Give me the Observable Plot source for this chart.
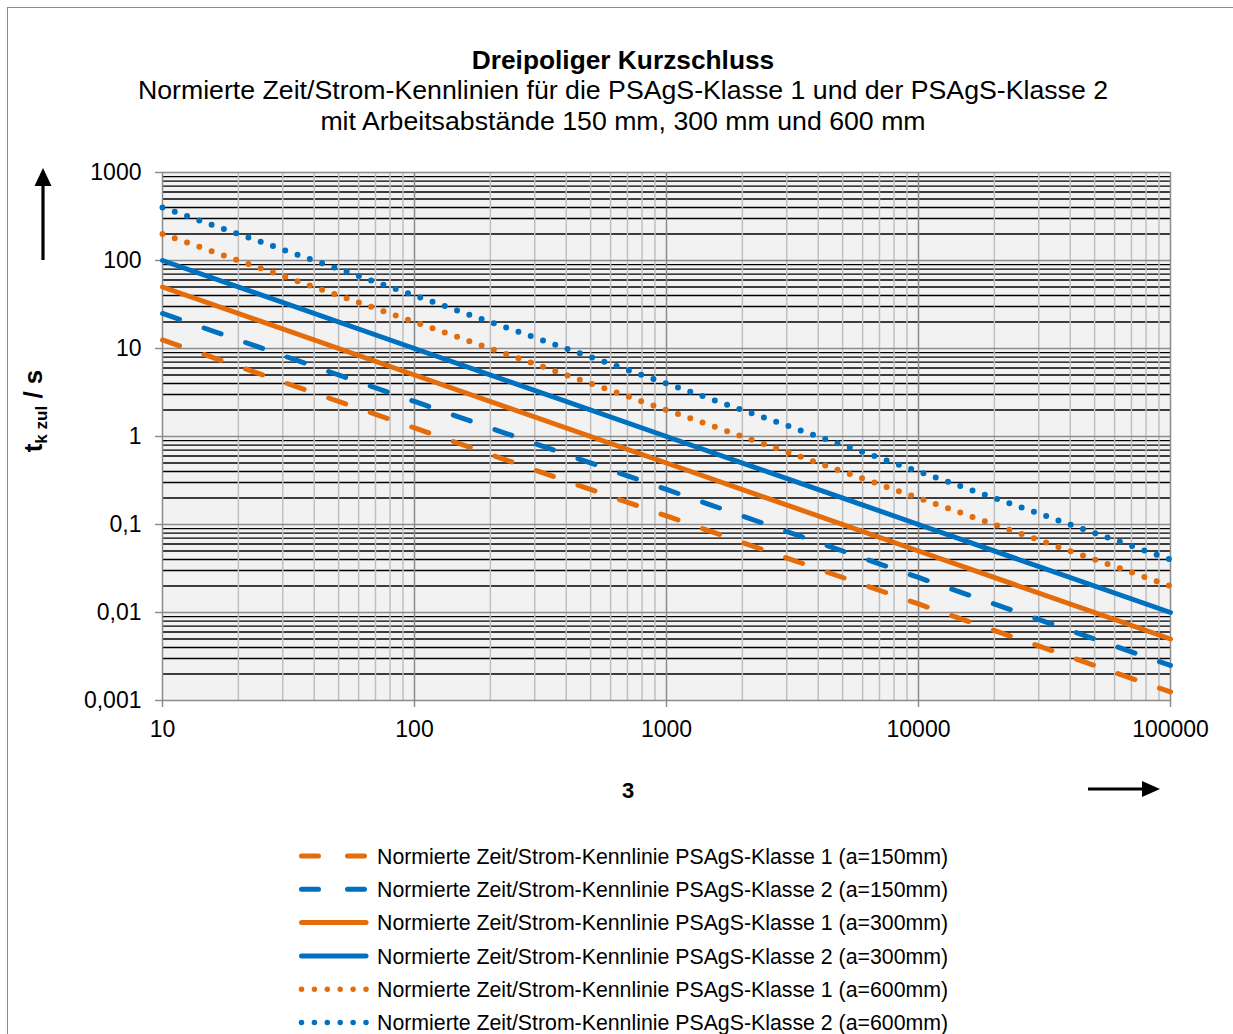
<!DOCTYPE html>
<html>
<head>
<meta charset="utf-8">
<script src="https://cdn.jsdelivr.net/npm/d3@7"></script>
<script src="https://cdn.jsdelivr.net/npm/@observablehq/plot@0.6"></script>
<style>
  body { margin: 0; background: #fff; font-family: "Liberation Sans", Arial, sans-serif; }
  #wrap { position: relative; width: 1233px; height: 1034px; overflow: hidden; background: #fff; }
  #border { position: absolute; left: 7px; top: 7px; width: 1260px; height: 1060px; border: 1.5px solid #8c8c8c; box-sizing: border-box; }
  #chart { position: absolute; left: 0; top: 140px; }
  #overlay { position: absolute; left: 0; top: 0; pointer-events: none; }
</style>
</head>
<body>
<div id="wrap">
  <div id="border"></div>
  <div id="chart"></div>
  <svg id="overlay" width="1233" height="1034"></svg>
</div>
<script>
// ---- Data ----
const xValues = [10, 100, 1000, 10000, 100000];
const klasse1_150 = [12.5, 1.25, 0.125, 0.0125, 0.00125];
const klasse2_150 = [25, 2.5, 0.25, 0.025, 0.0025];
const klasse1_300 = [50, 5, 0.5, 0.05, 0.005];
const klasse2_300 = [100, 10, 1, 0.1, 0.01];
const klasse1_600 = [200, 20, 2, 0.2, 0.02];
const klasse2_600 = [400, 40, 4, 0.4, 0.04];

const seriesNames = [
  "Normierte Zeit/Strom-Kennlinie PSAgS-Klasse 1 (a=150mm)",
  "Normierte Zeit/Strom-Kennlinie PSAgS-Klasse 2 (a=150mm)",
  "Normierte Zeit/Strom-Kennlinie PSAgS-Klasse 1 (a=300mm)",
  "Normierte Zeit/Strom-Kennlinie PSAgS-Klasse 2 (a=300mm)",
  "Normierte Zeit/Strom-Kennlinie PSAgS-Klasse 1 (a=600mm)",
  "Normierte Zeit/Strom-Kennlinie PSAgS-Klasse 2 (a=600mm)"
];
const seriesValues = [klasse1_150, klasse2_150, klasse1_300, klasse2_300, klasse1_600, klasse2_600];
const seriesColors = ["#E46C0A", "#0070C0", "#E46C0A", "#0070C0", "#E46C0A", "#0070C0"];
const seriesStyles = ["dash", "dash", "solid", "solid", "dot", "dot"];

const yTicks = [0.001, 0.01, 0.1, 1, 10, 100, 1000];
const yTickLabels = ["0,001", "0,01", "0,1", "1", "10", "100", "1000"];
const xTicks = [10, 100, 1000, 10000, 100000];
const xTickLabels = ["10", "100", "1000", "10000", "100000"];

const titleText = "Dreipoliger Kurzschluss";
const subtitleLines = [
  "Normierte Zeit/Strom-Kennlinien für die PSAgS-Klasse 1 und der PSAgS-Klasse 2",
  "mit Arbeitsabstände 150 mm, 300 mm und 600 mm"
];
const xAxisLabel = "3";

// ---- Chart ----
const minorOf = (ticks) => ticks.slice(0, -1).flatMap(t => d3.range(2, 10).map(m => +(m * t).toPrecision(6)));
const yMinor = minorOf(yTicks);
const xMinor = minorOf(xTicks);

const plotDash = { dash: "18,26", solid: null, dot: "0,13" };
const plotWidth = { dash: 5, solid: 5, dot: 6 };

const lineMarks = seriesValues.map((vals, s) =>
  Plot.line(xValues.map((x, i) => ({ x, y: vals[i] })), {
    x: "x", y: "y",
    stroke: seriesColors[s],
    strokeWidth: plotWidth[seriesStyles[s]],
    strokeDasharray: plotDash[seriesStyles[s]],
    strokeLinecap: "round",
    strokeLinejoin: "round"
  })
);

const chart = Plot.plot({
  width: 1233,
  height: 680,
  marginTop: 32,
  marginBottom: 120,
  marginLeft: 162,
  marginRight: 63,
  x: { type: "log", domain: [10, 100000] },
  y: { type: "log", domain: [0.001, 1000] },
  style: { fontFamily: "'Liberation Sans', Arial, sans-serif", background: "transparent", color: "black", overflow: "visible" },
  marks: [
    Plot.frame({ fill: "#f2f2f2" }),
    Plot.ruleY(yMinor, { stroke: "#000", strokeWidth: 1.3 }),
    Plot.ruleX(xMinor, { stroke: "#bfbfbf", strokeWidth: 1.5 }),
    Plot.ruleX(xTicks, { stroke: "#8c8c8c", strokeWidth: 1.5 }),
    Plot.ruleY(yTicks, { stroke: "#8c8c8c", strokeWidth: 1.5 }),
    Plot.axisY({
      ticks: yTicks,
      tickFormat: d => yTickLabels[yTicks.indexOf(d)],
      tickSize: 7, tickPadding: 14, fontSize: 23,
      stroke: "#8c8c8c", strokeWidth: 1.5, fill: "black", label: null
    }),
    Plot.axisX({
      ticks: xTicks,
      tickFormat: d => xTickLabels[xTicks.indexOf(d)],
      tickSize: 7, tickPadding: 13, fontSize: 23,
      stroke: "#8c8c8c", strokeWidth: 1.5, fill: "black", label: null
    }),
    ...lineMarks
  ]
});
document.getElementById("chart").appendChild(chart);

// ---- Titles, axis labels, arrows, legend ----
const ov = d3.select("#overlay").style("font-family", "'Liberation Sans', Arial, sans-serif");

ov.append("text").attr("x", 623).attr("y", 69).attr("text-anchor", "middle")
  .attr("font-size", 26.3).attr("font-weight", "bold").attr("fill", "#000").text(titleText);
subtitleLines.forEach((t, i) => {
  ov.append("text").attr("x", 623).attr("y", 99 + i * 31).attr("text-anchor", "middle")
    .attr("font-size", 26.7).attr("fill", "#000").text(t);
});

// y label
const yl = ov.append("text").attr("transform", "translate(42,411) rotate(-90)")
  .attr("text-anchor", "middle").attr("font-weight", "bold").attr("font-size", 26).attr("fill", "#000");
yl.append("tspan").text("t");
yl.append("tspan").attr("font-size", 17).attr("dy", 5).text("k zul");
yl.append("tspan").attr("dy", -5).text(" / s");

// x label
ov.append("text").attr("x", 628).attr("y", 798).attr("text-anchor", "middle")
  .attr("font-size", 22).attr("font-weight", "bold").attr("fill", "#000").text(xAxisLabel);

// arrows
ov.append("line").attr("x1", 43).attr("y1", 260).attr("x2", 43).attr("y2", 184)
  .attr("stroke", "#000").attr("stroke-width", 3.2);
ov.append("path").attr("d", "M43,168 L51.5,186 L34.5,186 Z").attr("fill", "#000");
ov.append("line").attr("x1", 1088).attr("y1", 789).attr("x2", 1144).attr("y2", 789)
  .attr("stroke", "#000").attr("stroke-width", 3.2);
ov.append("path").attr("d", "M1160,789 L1142,781 L1142,797 Z").attr("fill", "#000");

// legend
const legendDash = { dash: "17,29", solid: null, dot: "0,12.9" };
const legendWidth = { dash: 5, solid: 5, dot: 5.5 };
seriesNames.forEach((name, s) => {
  const cy = 856 + s * 33.3;
  ov.append("line").attr("x1", 301.5).attr("x2", 366).attr("y1", cy).attr("y2", cy)
    .attr("stroke", seriesColors[s]).attr("stroke-width", legendWidth[seriesStyles[s]])
    .attr("stroke-linecap", "round")
    .attr("stroke-dasharray", legendDash[seriesStyles[s]]);
  ov.append("text").attr("x", 377).attr("y", cy + 7.6)
    .attr("font-size", 21.3).attr("fill", "#000").text(name);
});
</script>
</body>
</html>
